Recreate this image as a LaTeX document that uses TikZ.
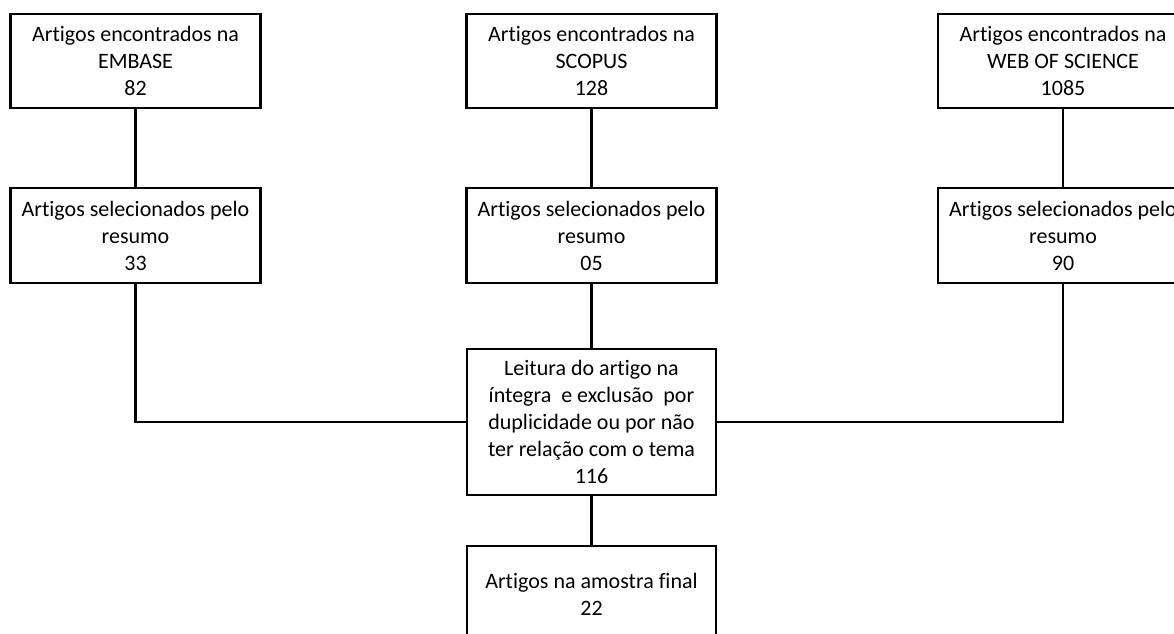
\documentclass[tikz,border=0pt]{standalone}
\usepackage{fontspec}
\setmainfont{Carlito}[Ligatures={NoCommon}]
\begin{document}
\begin{tikzpicture}[x=1pt,y=-1pt,
  box/.style={draw=black,line width=2.8pt,fill=white,minimum width=250pt,inner sep=0pt,align=center,
    font=\fontsize{22}{27}\selectfont},
  link/.style={draw=black,line width=2.8pt}]
\clip (0,0) rectangle (1174,633);
\fill[white] (0,0) rectangle (1174,633);
% top row
\node[box,minimum height=94pt] (t1) at (135.5,61) {Artigos encontrados na\\EMBASE\\82};
\node[box,minimum height=94pt] (t2) at (591.5,61) {Artigos encontrados na\\SCOPUS\\128};
\node[box,minimum height=94pt] (t3) at (1063,61) {Artigos encontrados na\\WEB OF SCIENCE\\1085};
% second row
\node[box,minimum height=95pt] (s1) at (135.5,235.5) {Artigos selecionados pelo\\resumo\\33};
\node[box,minimum height=95pt] (s2) at (591.5,235.5) {Artigos selecionados pelo\\resumo\\05};
\node[box,minimum height=95pt] (s3) at (1063,235.5) {Artigos selecionados pelo\\resumo\\90};
% reading box
\node[box,minimum width=249pt,minimum height=146pt] (lei) at (591.5,422) {Leitura do artigo na\\íntegra \ e exclusão \ por\\duplicidade ou por não\\ter relação com o tema\\116};
% final
\node[box,minimum width=249pt,minimum height=96pt] (fin) at (591.5,594) {Artigos na amostra final\\22};
% connectors
\draw[link] (t1.south) -- (s1.north);
\draw[link] (t2.south) -- (s2.north);
\draw[link] (t3.south) -- (s3.north);
\draw[link] (s2.south) -- (lei.north);
\draw[link] (s1.south) |- (lei.west);
\draw[link] (s3.south) |- (lei.east);
\draw[link] (lei.south) -- (fin.north);
\end{tikzpicture}
\end{document}
